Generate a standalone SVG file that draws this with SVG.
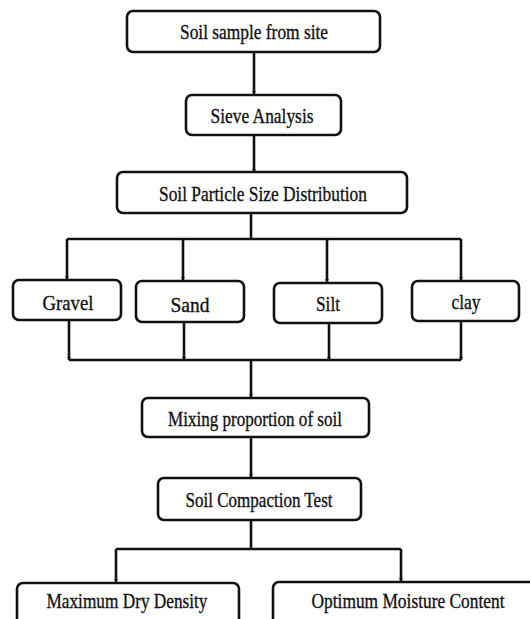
<svg xmlns="http://www.w3.org/2000/svg" width="530" height="619" viewBox="0 0 530 619">
<style>
.box{fill:#fff;stroke:#111;stroke-width:2.6}
.t{font-family:"Liberation Serif","Times New Roman",serif;font-size:22px;fill:#111;stroke:#111;stroke-width:0.35;text-anchor:middle}
.c{fill:none;stroke:#111;stroke-width:2.6}
</style>
<defs>
<marker id="ah" viewBox="0 0 6 6" refX="5" refY="3" markerWidth="4" markerHeight="4" markerUnits="userSpaceOnUse" orient="auto"><path d="M0,0L6,3L0,6z" fill="#111"/></marker>
</defs>
<rect width="530" height="619" fill="#fff"/>
<g id="connectors">
<path class="c" d="M254,52V94" marker-end="url(#ah)"/>
<path class="c" d="M254,135V172" marker-end="url(#ah)"/>
<path class="c" d="M251,213V239"/>
<path class="c" d="M67,239H461"/>
<path class="c" d="M67,239V279" marker-end="url(#ah)"/>
<path class="c" d="M183,239V280" marker-end="url(#ah)"/>
<path class="c" d="M327,239V282" marker-end="url(#ah)"/>
<path class="c" d="M461,239V280" marker-end="url(#ah)"/>
<path class="c" d="M69,320V360" marker-end="url(#ah)"/>
<path class="c" d="M184,322V360" marker-end="url(#ah)"/>
<path class="c" d="M329,323V360" marker-end="url(#ah)"/>
<path class="c" d="M461,321V360" marker-end="url(#ah)"/>
<path class="c" d="M69,360H461"/>
<path class="c" d="M251,360V397" marker-end="url(#ah)"/>
<path class="c" d="M251,437V477" marker-end="url(#ah)"/>
<path class="c" d="M251,520V549"/>
<path class="c" d="M116,549H401"/>
<path class="c" d="M116,549V582" marker-end="url(#ah)"/>
<path class="c" d="M401,549V581" marker-end="url(#ah)"/>
</g>
<g id="n1"><rect class="box" x="127" y="11" width="253" height="41" rx="6"/><text class="t" x="254" y="39" textLength="148" lengthAdjust="spacingAndGlyphs">Soil sample from site</text></g>
<g id="n2"><rect class="box" x="186" y="95" width="155" height="40" rx="6"/><text class="t" x="262" y="123" textLength="103" lengthAdjust="spacingAndGlyphs">Sieve Analysis</text></g>
<g id="n3"><rect class="box" x="117" y="172" width="290" height="41" rx="6"/><text class="t" x="263" y="201" textLength="208" lengthAdjust="spacingAndGlyphs">Soil Particle Size Distribution</text></g>
<g id="n4"><rect class="box" x="13" y="280" width="108" height="40" rx="6"/><text class="t" x="68" y="310" textLength="51" lengthAdjust="spacingAndGlyphs">Gravel</text></g>
<g id="n5"><rect class="box" x="136" y="281" width="108" height="41" rx="6"/><text class="t" x="190" y="312" textLength="39" lengthAdjust="spacingAndGlyphs">Sand</text></g>
<g id="n6"><rect class="box" x="274" y="283" width="108" height="40" rx="6"/><text class="t" x="328" y="311" textLength="24" lengthAdjust="spacingAndGlyphs">Silt</text></g>
<g id="n7"><rect class="box" x="412" y="281" width="107" height="40" rx="6"/><text class="t" x="466" y="309" textLength="29" lengthAdjust="spacingAndGlyphs">clay</text></g>
<g id="n8"><rect class="box" x="142" y="398" width="227" height="39" rx="6"/><text class="t" x="255" y="426" textLength="174" lengthAdjust="spacingAndGlyphs">Mixing proportion of soil</text></g>
<g id="n9"><rect class="box" x="158" y="478" width="203" height="42" rx="6"/><text class="t" x="259" y="507" textLength="147" lengthAdjust="spacingAndGlyphs">Soil Compaction Test</text></g>
<g id="n10"><rect class="box" x="17" y="583" width="222" height="50" rx="6"/><text class="t" x="127" y="608" textLength="161" lengthAdjust="spacingAndGlyphs">Maximum Dry Density</text></g>
<g id="n11"><rect class="box" x="273" y="582" width="270" height="50" rx="6"/><text class="t" x="408" y="608" textLength="193" lengthAdjust="spacingAndGlyphs">Optimum Moisture Content</text></g>
</svg>
